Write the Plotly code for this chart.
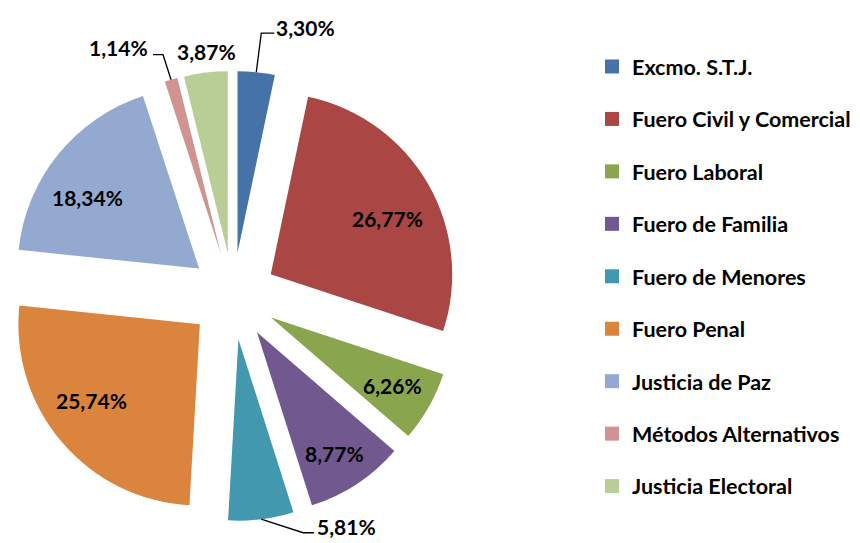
import math
import plotly.graph_objects as go

categories = ["Excmo. S.T.J.", "Fuero Civil y Comercial", "Fuero Laboral", "Fuero de Familia",
              "Fuero de Menores", "Fuero Penal", "Justicia de Paz", "Métodos Alternativos",
              "Justicia Electoral"]
values = [3.30, 26.77, 6.26, 8.77, 5.81, 25.74, 18.34, 1.14, 3.87]
colors = ["#4572A7", "#AA4643", "#89A54E", "#71588F", "#4198AF", "#DB843D", "#93A9CF", "#D19392", "#B9CD96"]

# inside labels: (radius fraction from the pulled slice origin, angular deviation in degrees)
inside_place = {1: (0.715, 4.4), 2: (0.77, -0.3), 3: (0.79, 0.9), 5: (0.73, 5.3), 6: (0.73, -6.5)}
# outside labels: text offset from slice outer edge (px), leader elbow offset, horizontal run
outside_place = {
    0: dict(text=(49, -45), elbow=(5, -39), run=13),
    4: dict(text=(85, 7), elbow=(42, 13.5), run=11),
    7: dict(text=(-53, -32), elbow=(-8, -25), run=-10),
    8: dict(text=(1, -21), elbow=None, run=0),
}

texts = [f"{v:.2f}%".replace(".", ",") for v in values]
FONT = "Lato"
W, H = 860, 543
PULL = 0.24
DOM_X = [0.0, 0.52326]
DOM_Y = [0.05525, 0.88398]
LABEL_FONT = dict(family=FONT, size=21, color="black", weight="bold")

fig = go.Figure()
fig.add_trace(go.Pie(
    labels=categories, values=values, textinfo="none",
    sort=False, direction="clockwise", rotation=0,
    marker=dict(colors=colors, line=dict(width=0)),
    pull=[PULL] * len(values),
    showlegend=False,
    domain=dict(x=DOM_X, y=DOM_Y),
    hoverinfo="label+percent",
))

# geometry of the pie as plotly lays it out (radius = half domain size / (1 + max pull))
cx = (DOM_X[0] + DOM_X[1]) / 2 * W
cy = (1 - (DOM_Y[0] + DOM_Y[1]) / 2) * H
r = min((DOM_X[1] - DOM_X[0]) * W, (DOM_Y[1] - DOM_Y[0]) * H) / 2 / (1 + PULL)
total = sum(values)


def to_paper(px, py):
    return px / W, 1 - py / H


cum = 0.0
for i, v in enumerate(values):
    mid = (cum + v / 2) / total * 2 * math.pi
    cum += v
    ox = cx + PULL * r * math.sin(mid)
    oy = cy - PULL * r * math.cos(mid)
    if i in inside_place:
        frac, dev = inside_place[i]
        a = mid + math.radians(dev)
        lx = ox + frac * r * math.sin(a)
        ly = oy - frac * r * math.cos(a)
    else:
        p = outside_place[i]
        ex = ox + r * math.sin(mid)
        ey = oy - r * math.cos(mid)
        lx, ly = ex + p["text"][0], ey + p["text"][1]
        if p["elbow"] is not None:
            bx, by = ex + p["elbow"][0], ey + p["elbow"][1]
            qx, qy = bx + p["run"], by
            pts = [to_paper(ex, ey), to_paper(bx, by), to_paper(qx, qy)]
            path = "M {} {} L {} {} L {} {}".format(*[c for pt in pts for c in pt])
            fig.add_shape(type="path", xref="paper", yref="paper", path=path,
                          line=dict(color="black", width=1.3))
    x, y = to_paper(lx, ly)
    fig.add_annotation(x=x, y=y, xref="paper", yref="paper", text=texts[i],
                       showarrow=False, xanchor="center", yanchor="middle",
                       font=LABEL_FONT)

for c, col in zip(categories, colors):
    fig.add_trace(go.Scatter(
        x=[None], y=[None], mode="markers", name=c, legendgroup=c,
        marker=dict(symbol="square", size=14, color=col),
    ))

fig.update_layout(
    width=W, height=H,
    margin=dict(l=0, r=0, t=0, b=0),
    paper_bgcolor="white", plot_bgcolor="white",
    xaxis=dict(visible=False, domain=[0.7, 0.71]),
    yaxis=dict(visible=False, domain=[0.5, 0.51]),
    legend=dict(x=0.6791, y=0.930, xanchor="left", yanchor="top",
                font=dict(family=FONT, size=21.5, color="black", weight="bold"),
                itemwidth=30, tracegroupgap=21.5, bgcolor="rgba(0,0,0,0)"),
)
fig.write_html("out.html")
